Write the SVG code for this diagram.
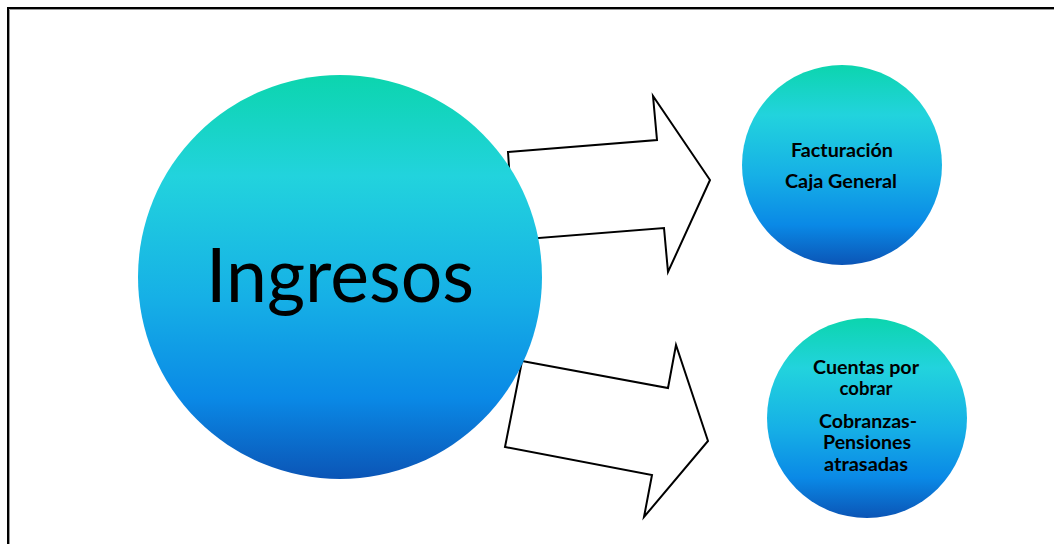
<svg xmlns="http://www.w3.org/2000/svg" width="1054" height="544" viewBox="0 0 1054 544">
<style>
.arrow{fill:#fff;stroke:#000;stroke-width:2;stroke-linejoin:miter}
.small{font-family:Lato,"Liberation Sans",sans-serif;font-weight:bold;font-size:18px;fill:#000;text-anchor:middle}
.big{font-family:Lato,"Liberation Sans",sans-serif;font-size:76px;fill:#000;text-anchor:middle}
</style>
<defs>
<linearGradient id="g" x1="0" y1="0" x2="0" y2="1">
<stop offset="0" stop-color="#0cd5ae"/>
<stop offset="0.25" stop-color="#22d3dd"/>
<stop offset="0.55" stop-color="#16b0e6"/>
<stop offset="0.8" stop-color="#0a89e6"/>
<stop offset="1" stop-color="#0b55b6"/>
</linearGradient>
</defs>
<rect width="1054" height="544" fill="#fff"/>
<path d="M8,544 V8 H1054" fill="none" stroke="#000" stroke-width="2"/>
<path d="M9.5,544 V9.5 H1054" fill="none" stroke="#999" stroke-width="1"/>
<g id="connectors">
<polygon class="arrow" points="508,152 657,140 653,96 710,180 668,272 664,228 514,240"/>
<polygon class="arrow" points="522,361 668,388 676,345 708,441 644,517 652,475 505,447"/>
</g>
<g id="ingresos">
<circle cx="340" cy="277" r="202" fill="url(#g)"/>
<text class="big" x="340" y="302" textLength="268" lengthAdjust="spacingAndGlyphs">Ingresos</text>
</g>
<g id="facturacion">
<circle cx="842" cy="165" r="100" fill="url(#g)"/>
<text class="small" x="842" y="157" textLength="102" lengthAdjust="spacingAndGlyphs">Facturación</text>
<text class="small" x="841" y="188" textLength="112" lengthAdjust="spacingAndGlyphs">Caja General</text>
</g>
<g id="cuentas">
<circle cx="867" cy="418" r="100" fill="url(#g)"/>
<text class="small" x="866" y="374" textLength="106" lengthAdjust="spacingAndGlyphs">Cuentas por</text>
<text class="small" x="866" y="395" textLength="53" lengthAdjust="spacingAndGlyphs">cobrar</text>
<text class="small" x="868" y="428" textLength="98" lengthAdjust="spacingAndGlyphs">Cobranzas-</text>
<text class="small" x="867" y="449" textLength="88" lengthAdjust="spacingAndGlyphs">Pensiones</text>
<text class="small" x="866" y="471" textLength="84" lengthAdjust="spacingAndGlyphs">atrasadas</text>
</g>
</svg>
